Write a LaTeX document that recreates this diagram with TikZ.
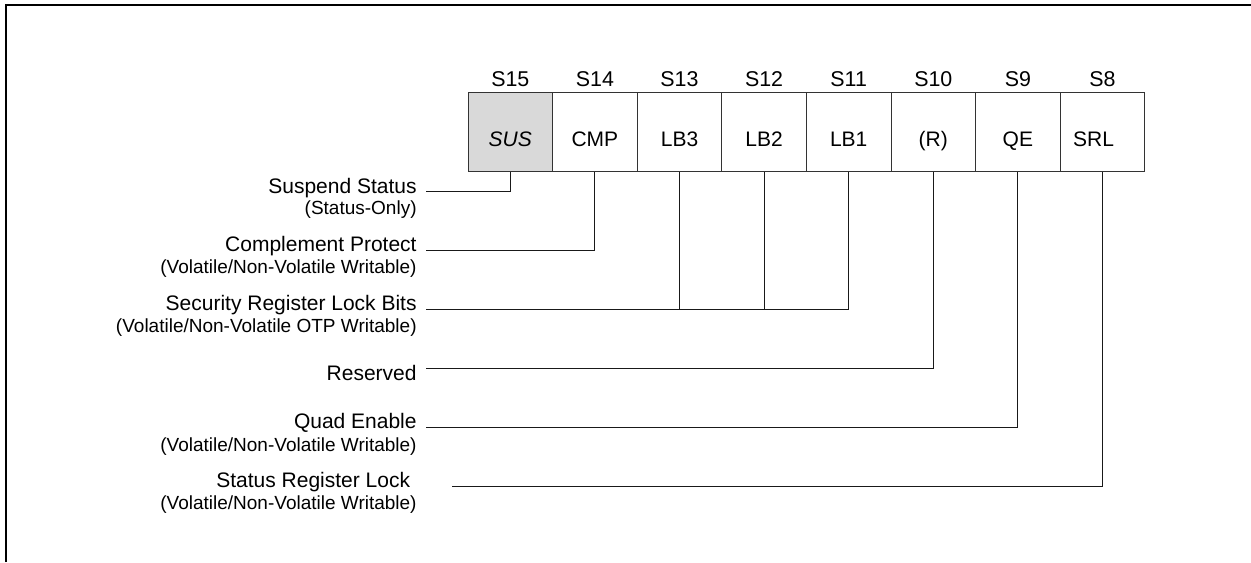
\documentclass[tikz,border=0pt]{standalone}
\usepackage{fontspec}
\setmainfont{Liberation Sans}

\begin{document}
\begin{tikzpicture}[x=0.5pt,y=-0.5pt]
    \tikzstyle{every node}+=[inner sep=0pt]
    \tikzstyle{regbox}=[draw=black!80, line width=0.5pt, minimum width=42.3pt, minimum height=39.5pt, text height=13.8pt, text depth=0pt, font=\fontsize{10.5}{12}\selectfont]
    \tikzstyle{bitname}=[anchor=base, font=\fontsize{10.7}{12}\selectfont]
    \tikzstyle{fieldname}=[anchor=base east, font=\fontsize{10.5}{12}\selectfont]
    \tikzstyle{fieldnote}=[anchor=base east, font=\fontsize{9.5}{11}\selectfont]
    \tikzstyle{leader}=[black!90, line width=0.5pt]
    \useasboundingbox (0,0) rectangle (1251,562);
    \draw [black, line width=1pt] (5.7,562) -- (5.7,5) -- (1251,5);
    \node [regbox, fill=black!15] (b15) at (510.3,132.2) {\textit{SUS}};
    \node [regbox] (b14) at (594.9,132.2) {CMP};
    \node [regbox] (b13) at (679.5,132.2) {LB3};
    \node [regbox] (b12) at (764.1,132.2) {LB2};
    \node [regbox] (b11) at (848.7,132.2) {LB1};
    \node [regbox] (b10) at (933.3,132.2) {(R)};
    \node [regbox] (b9) at (1017.9,132.2) {QE};
    \node [regbox] (b8) at (1102.5,132.2) {SRL\kern9pt};
    \node [bitname] (s15) at (510.3,86) {S15};
    \node [bitname] (s14) at (594.9,86) {S14};
    \node [bitname] (s13) at (679.5,86) {S13};
    \node [bitname] (s12) at (764.1,86) {S12};
    \node [bitname] (s11) at (848.7,86) {S11};
    \node [bitname] (s10) at (933.3,86) {S10};
    \node [bitname] (s9) at (1017.9,86) {S9};
    \node [bitname] (s8) at (1102.5,86) {S8};
    \node [fieldname] (sus) at (417,193) {Suspend Status};
    \node [fieldnote] (sus-note) at (417,214) {(Status-Only)};
    \node [fieldname] (cmp) at (417,251) {Complement Protect};
    \node [fieldnote] (cmp-note) at (417,273) {(Volatile/Non-Volatile Writable)};
    \node [fieldname] (lb) at (417,310) {Security Register Lock Bits};
    \node [fieldnote] (lb-note) at (417,332.5) {(Volatile/Non-Volatile OTP Writable)};
    \node [fieldname] (res) at (417,380) {Reserved};
    \node [fieldname] (qe) at (417,428) {Quad Enable};
    \node [fieldnote] (qe-note) at (417,451) {(Volatile/Non-Volatile Writable)};
    \node [fieldname] (srl) at (410.5,487) {Status Register Lock};
    \node [fieldnote] (srl-note) at (417,509) {(Volatile/Non-Volatile Writable)};
    \coordinate (sus-end) at (426,191);
    \draw [leader] (b15.south) |- (sus-end);
    \coordinate (cmp-end) at (426,250);
    \draw [leader] (b14.south) |- (cmp-end);
    \coordinate (lb-end) at (426,309.3);
    \draw [leader] (b11.south) |- (lb-end);
    \draw [leader] (b13.south) -- (b13.south |- lb-end);
    \draw [leader] (b12.south) -- (b12.south |- lb-end);
    \coordinate (res-end) at (426,368.3);
    \draw [leader] (b10.south) |- (res-end);
    \coordinate (qe-end) at (426,427.3);
    \draw [leader] (b9.south) |- (qe-end);
    \coordinate (srl-end) at (451.7,486);
    \draw [leader] (b8.south) |- (srl-end);
\end{tikzpicture}
\end{document}
